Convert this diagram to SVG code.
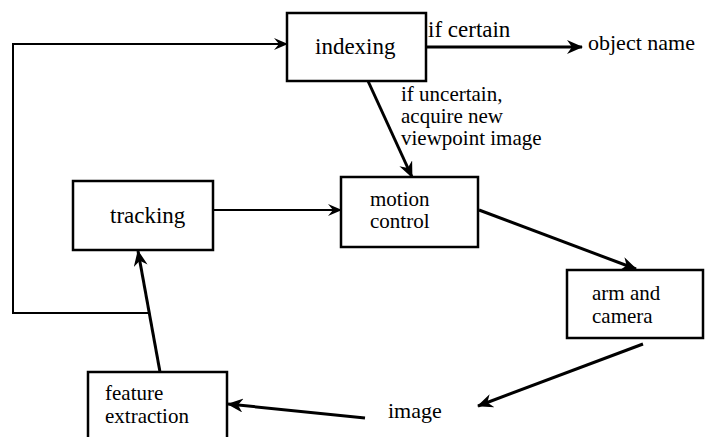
<svg xmlns="http://www.w3.org/2000/svg" width="706" height="437" viewBox="0 0 706 437">
<style>
.box{fill:#fff;stroke:#000;stroke-width:2.5}
.thin{fill:none;stroke:#000;stroke-width:2}
.thick{fill:none;stroke:#000;stroke-width:3}
</style>
<defs>
<marker id="big" markerUnits="userSpaceOnUse" viewBox="0 0 16 14" refX="15" refY="7" markerWidth="16" markerHeight="14" orient="auto">
<path d="M0,0 L16,7 L0,14 L5,7 z" fill="#000"/>
</marker>
<marker id="small" markerUnits="userSpaceOnUse" viewBox="0 0 14 12" refX="13" refY="6" markerWidth="14" markerHeight="12" orient="auto">
<path d="M0,0 L14,6 L0,12 L5,6 z" fill="#000"/>
</marker>
</defs>
<rect width="706" height="437" fill="#fff"/>
<g id="connectors">
<polyline class="thin" points="150,313 13,313 13,44 287,44" marker-end="url(#small)"/>
<line class="thin" x1="213" y1="210" x2="341" y2="210" marker-end="url(#small)"/>
<line class="thick" x1="368" y1="81" x2="412" y2="177" marker-end="url(#big)"/>
<line class="thick" x1="426" y1="47" x2="582" y2="47" marker-end="url(#big)"/>
<line class="thick" x1="479" y1="210" x2="636" y2="269" marker-end="url(#big)"/>
<line class="thick" x1="643" y1="344" x2="478" y2="406" marker-end="url(#big)"/>
<line class="thick" x1="365" y1="418" x2="228" y2="404" marker-end="url(#big)"/>
<line class="thick" x1="160" y1="372" x2="138" y2="251" marker-end="url(#big)"/>
</g>
<g style="font-family:'Liberation Serif','DejaVu Serif',serif" font-size="21" fill="#000">
<g id="indexing">
<rect class="box" x="287" y="13" width="139" height="68"/>
<text x="315" y="54" font-size="23">indexing</text>
</g>
<g id="label-certain">
<text x="428" y="37" font-size="23">if certain</text>
</g>
<g id="object-name">
<text x="588" y="50" font-size="22">object name</text>
</g>
<g id="label-uncertain">
<text x="401" y="101">if uncertain,</text>
<text x="401" y="123">acquire new</text>
<text x="401" y="145">viewpoint image</text>
</g>
<g id="tracking">
<rect class="box" x="73" y="181" width="140" height="69"/>
<text x="110" y="223" font-size="23">tracking</text>
</g>
<g id="motion-control">
<rect class="box" x="341" y="177" width="137" height="70"/>
<text x="370" y="206">motion</text>
<text x="370" y="228">control</text>
</g>
<g id="arm-camera">
<rect class="box" x="567" y="270" width="136" height="68"/>
<text x="592" y="300">arm and</text>
<text x="592" y="323">camera</text>
</g>
<g id="image">
<text x="388" y="418" font-size="22">image</text>
</g>
<g id="feature-extraction">
<rect class="box" x="88" y="372" width="139" height="75"/>
<text x="105" y="400">feature</text>
<text x="105" y="423">extraction</text>
</g>
</g>
</svg>
